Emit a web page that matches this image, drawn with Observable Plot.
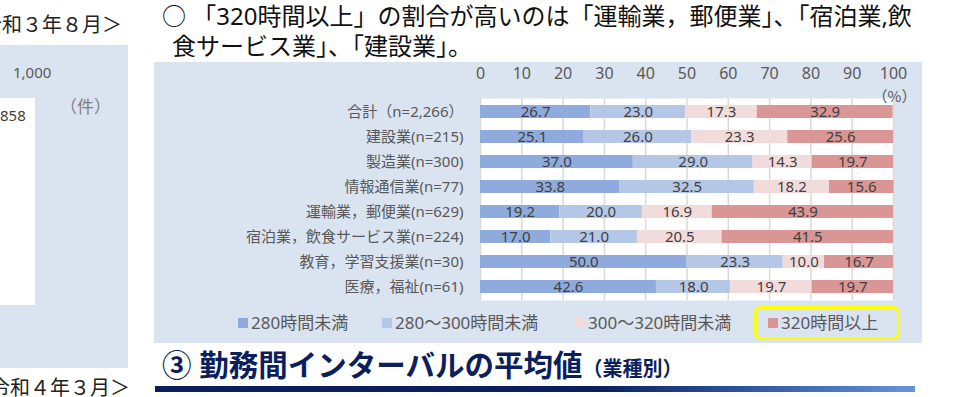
<!DOCTYPE html>
<html lang="ja">
<head>
<meta charset="utf-8">
<script src="https://cdn.jsdelivr.net/npm/d3@7"></script>
<script src="https://cdn.jsdelivr.net/npm/@observablehq/plot@0.6"></script>
<style>
  html, body { margin: 0; padding: 0; }
  body { width: 972px; height: 397px; overflow: hidden; position: relative; background: #fff;
         font-family: "Noto Sans", "Noto Sans CJK JP", sans-serif; }
  .abs { position: absolute; white-space: nowrap; line-height: 1; }
  #panel { position: absolute; left: 154px; top: 62px; width: 768px; height: 281px; background: #dae3f0; }
  #chart { position: absolute; left: 0; top: 0; }
  #chart [aria-label^="x-axis"] text { font-size: 16px; }
  .sw { position: absolute; width: 10px; height: 10px; }
  .lg { position: absolute; font-size: 17px; color: #595959; line-height: 1; white-space: nowrap; }
</style>
</head>
<body>
<!-- left partial panel -->
<div class="abs" style="left:-18px; top:15px; font-size:20px; color:#222;">令和３年８月＞</div>
<div class="abs" style="left:0; top:45px; width:128px; height:323px; background:#dae3f0;"></div>
<div class="abs" style="left:0; top:98px; width:35px; height:207px; background:#fff;"></div>
<div class="abs" style="left:13px; top:65px; font-size:15px; color:#595959;">1,000</div>
<div class="abs" style="left:0; top:108px; font-size:15px; color:#404040;">858</div>
<div class="abs" style="left:60px; top:98px; font-size:17px; color:#7f7f7f;">（件）</div>
<div class="abs" style="left:-10px; top:378px; font-size:20px; color:#222;">令和４年３月＞</div>

<!-- top text -->
<div class="abs" style="left:162px; top:4px; font-size:24px; color:#111;">○ 「320時間以上」の割合が高いのは「運輸業，郵便業」、「宿泊業,飲</div>
<div class="abs" style="left:172px; top:34px; font-size:24px; color:#111;">食サービス業」、「建設業」。</div>

<!-- chart panel -->
<div id="panel"><div id="chart"></div></div>

<!-- legend -->
<div id="legend"></div>
<div class="abs" style="left:754px; top:306px; width:140px; height:28px; border:3px solid #ffff00; border-radius:7px;"></div>

<!-- heading -->
<div class="abs" style="left:162px; top:350px; font-size:29.5px; font-weight:bold; color:#0c1f5c;">③ 勤務間インターバルの平均値<span style="font-size:20px;">（業種別）</span></div>
<div class="abs" style="left:155px; top:386px; width:760px; height:6px; background:linear-gradient(to right,#0b1f5c 0%,#0b1f5c 58%,#2f56a0 78%,#6596d8 100%);"></div>

<script>
const categories = ["合計（n=2,266）","建設業(n=215)","製造業(n=300)","情報通信業(n=77)","運輸業，郵便業(n=629)","宿泊業，飲食サービス業(n=224)","教育，学習支援業(n=30)","医療，福祉(n=61)"];
const series = ["280時間未満","280～300時間未満","300～320時間未満","320時間以上"];
const colors = ["#8faadc","#b4c7e7","#f2dcdb","#da9694"];
const v280 = [26.7,25.1,37.0,33.8,19.2,17.0,50.0,42.6];
const v300 = [23.0,26.0,29.0,32.5,20.0,21.0,23.3,18.0];
const v320 = [17.3,23.3,14.3,18.2,16.9,20.5,10.0,19.7];
const vOver = [32.9,25.6,19.7,15.6,43.9,41.5,16.7,19.7];
const xTicks = [0,10,20,30,40,50,60,70,80,90,100];
const unitLabel = "（%）";

const seriesValues = [v280, v300, v320, vOver];
const rows = [];
categories.forEach((c, i) => {
  seriesValues.forEach((arr, j) => rows.push({cat: c, series: series[j], value: arr[i]}));
});

const chart = Plot.plot({
  width: 768, height: 240,
  marginLeft: 326, marginRight: 29, marginTop: 36, marginBottom: 2,
  style: {background: "transparent", fontFamily: '"Noto Sans", "Noto Sans CJK JP", sans-serif', fontSize: "15px", color: "#595959"},
  x: {axis: "top", domain: [0, 100], ticks: xTicks, tickSize: 0, tickPadding: 20, label: null, tickFormat: d => String(d)},
  y: {domain: categories, label: null, tickSize: 0, tickPadding: 17, paddingInner: 0.48, paddingOuter: 0.24},
  color: {domain: series, range: colors},
  marks: [
    Plot.frame({fill: "white", stroke: "none"}),
    Plot.ruleX(xTicks, {stroke: "#d9d9d9", strokeWidth: 1.5}),
    Plot.barX(rows, {x: "value", y: "cat", fill: "series"}),
    Plot.text(rows, Plot.stackX({x: "value", y: "cat", z: "series", text: d => d.value.toFixed(1), fill: "#404040", fontSize: 15})),
    Plot.text([unitLabel], {frameAnchor: "top-right", textAnchor: "middle", text: d => d, dx: 1, dy: -7, fill: "#595959", fontSize: 15, fontFamily: '"Noto Sans CJK JP", sans-serif'})
  ]
});
document.getElementById("chart").appendChild(chart);

// legend
const legendX = [238, 382, 575, 768];
const legend = document.getElementById("legend");
series.forEach((s, i) => {
  const sw = document.createElement("div");
  sw.className = "sw";
  sw.style.left = legendX[i] + "px";
  sw.style.top = "318px";
  sw.style.background = colors[i];
  legend.appendChild(sw);
  const t = document.createElement("div");
  t.className = "lg";
  t.style.left = (legendX[i] + 13) + "px";
  t.style.top = "314px";
  t.textContent = s;
  legend.appendChild(t);
});
</script>
</body>
</html>
